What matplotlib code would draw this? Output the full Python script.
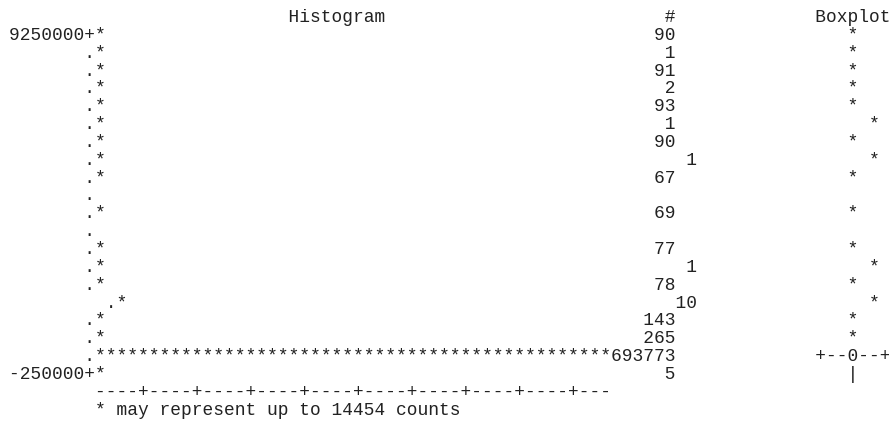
import math
import matplotlib
matplotlib.use("Agg")
import matplotlib.pyplot as plt

# histogram bins, top to bottom (bin midpoints step 500000)
bin_labels = ["9250000"] + [""] * 18 + ["-250000"]
counts = [90, 1, 91, 2, 93, 1, 90, 1, 67, 0, 69, 0, 77, 1, 78, 10, 143, 265, 693773, 5]
box_marks = ["*"] * 9 + [""] + ["*"] + [""] + ["*"] * 6 + ["+--0--+", "|"]
per_star = 14454

# odd column offsets seen in the printed listing
bar_shift = [0] * 20
count_shift = [0] * 20
box_shift = [0] * 20
bar_shift[15] = 2
for i in (7, 13, 15):
    count_shift[i] = 2
for i in (5, 7, 13, 15):
    box_shift[i] = 2

width = 84
bar_col = 7      # column of the "+" / "." axis
count_end = 61   # counts are right aligned on this column
box_mid = 78


def put(buf, col, s):
    for k, ch in enumerate(s):
        buf[col + k] = ch


lines = []
head = [" "] * width
put(head, 26, "Histogram")
put(head, count_end, "#")
put(head, box_mid - 3, "Boxplot")
lines.append(head)

max_stars = 0
for i, n in enumerate(counts):
    buf = [" "] * width
    lab = bin_labels[i]
    put(buf, bar_col - len(lab), lab)
    nstar = math.ceil(n / per_star)
    max_stars = max(max_stars, nstar)
    c0 = bar_col + bar_shift[i]
    put(buf, c0, "+" if lab else ".")
    put(buf, c0 + 1, "*" * nstar)
    if n > 0:
        txt = str(n)
        put(buf, count_end + count_shift[i] - len(txt) + 1, txt)
    mark = box_marks[i]
    if mark:
        put(buf, box_mid + box_shift[i] - len(mark) // 2, mark)
    lines.append(buf)

axis = [" "] * width
put(axis, bar_col + 1, ("----+" * 10)[:max_stars])
lines.append(axis)

foot = [" "] * width
put(foot, bar_col + 1, "* may represent up to %d counts" % per_star)
lines.append(foot)

fig = plt.figure(figsize=(8.89, 4.21), dpi=100)
ax = fig.add_axes([0, 0, 1, 1])
ax.set_xlim(0, 889)
ax.set_ylim(421, 0)
ax.axis("off")

row_h = 17.85     # px per line
fsize = 12.91     # gives about 10.7 px per character

for r, buf in enumerate(lines):
    s = "".join(buf).rstrip()
    ax.text(9, 22 + row_h * r, s, ha="left", va="baseline",
            family=["Liberation Mono", "DejaVu Sans Mono"],
            fontsize=fsize, color="#222222")

fig.savefig("out.png", dpi=100)
